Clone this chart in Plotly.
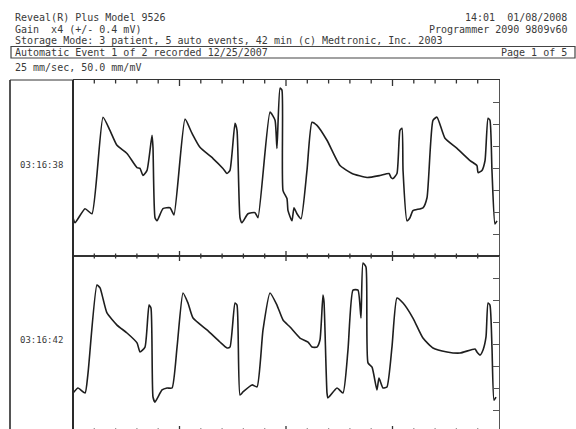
import numpy as np
import plotly.graph_objects as go

# ---- Data: ECG strip traces (time in s, amplitude in mV) ----
t1 = [0.000, 0.019, 0.113, 0.178, 0.282, 0.347, 0.413, 0.507, 0.601, 0.629, 0.657, 0.695,
      0.742, 0.751, 0.770, 0.789, 0.845, 0.911, 0.948, 1.052, 1.117, 1.192, 1.315, 1.408,
      1.446, 1.474, 1.521, 1.540, 1.568, 1.587, 1.643, 1.709, 1.737, 1.850, 1.897, 1.915,
      1.944, 1.962, 1.972, 2.009, 2.019, 2.056, 2.075, 2.103, 2.141, 2.197, 2.244, 2.291,
      2.385, 2.507, 2.620, 2.761, 2.883, 2.967, 2.986, 3.005, 3.042, 3.070, 3.089, 3.099,
      3.136, 3.164, 3.192, 3.286, 3.324, 3.380, 3.418, 3.493, 3.606, 3.728, 3.793, 3.803,
      3.840, 3.869, 3.897, 3.915, 3.934, 3.962, 3.981]
v1 = [-0.226, -0.249, -0.185, -0.208, 0.231, 0.171, 0.103, 0.066, 0.002, -0.002, -0.034, -0.011,
      0.149, 0.094, -0.226, -0.240, -0.185, -0.181, -0.213, 0.222, 0.158, 0.094, 0.043, -0.002,
      -0.025, -0.011, 0.203, 0.171, -0.226, -0.249, -0.208, -0.203, -0.226, 0.254, 0.217, 0.089,
      0.363, 0.354, -0.103, -0.139, -0.194, -0.240, -0.181, -0.208, -0.231, -0.011, 0.208, 0.194,
      0.126, 0.011, -0.025, -0.043, -0.034, -0.025, -0.043, -0.048, -0.025, 0.171, 0.181, -0.011,
      -0.240, -0.226, -0.194, -0.181, -0.135, 0.217, 0.231, 0.135, 0.089, 0.034, 0.011, -0.021,
      -0.011, 0.034, 0.226, 0.217, -0.011, -0.254, -0.240]

t2 = [0.000, 0.047, 0.113, 0.141, 0.225, 0.254, 0.319, 0.413, 0.507, 0.601, 0.629, 0.676,
      0.714, 0.732, 0.751, 0.770, 0.836, 0.883, 0.930, 0.977, 1.033, 1.080, 1.127, 1.258,
      1.380, 1.446, 1.474, 1.521, 1.540, 1.568, 1.596, 1.681, 1.728, 1.784, 1.850, 1.915,
      1.972, 2.038, 2.131, 2.207, 2.244, 2.291, 2.319, 2.347, 2.357, 2.385, 2.394, 2.479,
      2.535, 2.582, 2.629, 2.676, 2.704, 2.723, 2.751, 2.770, 2.808, 2.854, 2.873, 2.911,
      2.948, 2.995, 3.042, 3.099, 3.192, 3.286, 3.380, 3.512, 3.634, 3.775, 3.793, 3.822,
      3.850, 3.878, 3.897, 3.915, 3.934, 3.953, 3.972]
v2 = [-0.223, -0.200, -0.223, -0.132, 0.268, 0.255, 0.141, 0.086, 0.050, 0.005, -0.036, -0.014,
      0.177, 0.164, -0.241, -0.264, -0.209, -0.200, -0.200, -0.014, 0.232, 0.186, 0.118, 0.064,
      0.009, -0.018, -0.014, 0.186, 0.177, -0.232, -0.218, -0.186, -0.195, 0.064, 0.232, 0.177,
      0.109, 0.077, 0.027, 0.009, -0.014, -0.014, 0.018, 0.223, 0.191, -0.223, -0.245, -0.200,
      -0.223, -0.027, 0.245, 0.245, 0.118, 0.368, 0.350, -0.086, -0.105, -0.209, -0.155, -0.200,
      -0.195, -0.014, 0.209, 0.186, 0.118, 0.027, -0.018, -0.036, -0.041, -0.023, -0.036, -0.050,
      -0.027, 0.032, 0.186, 0.177, -0.014, -0.255, -0.241]

strip_labels = ["03:16:38", "03:16:42"]

header_left = ["Reveal(R) Plus Model 9526", "Gain  x4 (+/- 0.4 mV)",
               "Storage Mode: 3 patient, 5 auto events, 42 min (c) Medtronic, Inc. 2003",
               "Automatic Event 1 of 2 recorded 12/25/2007", "25 mm/sec, 50.0 mm/mV"]
header_right = ["14:01  01/08/2008", "Programmer 2090 9809v60", "", "Page 1 of 5", ""]

W, H = 576, 429
def px(x):
    return x / W
def py(y):
    return 1 - y / H

FONT = "DejaVu Sans Mono"
TXT = "#3a3a3a"
LINE = "#333333"

fig = go.Figure()
for tt, vv, xa, ya in [(t1, v1, "x", "y"), (t2, v2, "x2", "y2")]:
    fig.add_trace(go.Scatter(x=tt, y=vv, mode="lines", xaxis=xa, yaxis=ya,
                             line=dict(color="#1e1e1e", width=1.6, shape="spline", smoothing=0.5),
                             showlegend=False, hoverinfo="skip"))

xdom = [px(73), px(499)]
y1dom = [py(256), py(80)]
y2dom = [0, py(256)]
mv_per_px = 0.8 / 176.0

common_x = dict(range=[0, 4], showline=True, linecolor=LINE, linewidth=1, ticks="",
                showticklabels=False, showgrid=False, zeroline=False, fixedrange=True)
common_y = dict(showline=True, linecolor="#555555", linewidth=1.2, side="right", ticks="inside",
                dtick=0.1, tick0=0, ticklen=6, tickcolor="#555555", tickwidth=1,
                showticklabels=False, showgrid=False, zeroline=False, fixedrange=True)

fig.update_layout(
    width=W, height=H, margin=dict(l=0, r=0, t=0, b=0),
    paper_bgcolor="white", plot_bgcolor="white",
    xaxis=dict(domain=xdom, anchor="y", side="top", mirror=True, **common_x),
    yaxis=dict(domain=y1dom, anchor="x", range=[-0.4, 0.4], **common_y),
    xaxis2=dict(domain=xdom, anchor="y2", side="top", mirror=False, **common_x),
    yaxis2=dict(domain=y2dom, anchor="x2", range=[0.4 - 173 * mv_per_px, 0.4], **common_y),
    showlegend=False,
)

shapes = []
shapes.append(dict(type="line", xref="paper", yref="paper", x0=px(10), x1=px(10), y0=py(80), y1=py(432),
                   line=dict(color="#555555", width=2)))
shapes.append(dict(type="line", xref="paper", yref="paper", x0=px(73), x1=px(73), y0=py(80), y1=py(432),
                   line=dict(color="#2a2a2a", width=2)))
shapes.append(dict(type="line", xref="paper", yref="paper", x0=px(10), x1=px(73), y0=py(80), y1=py(80),
                   line=dict(color=LINE, width=1)))
# 0.2 s time marks (1 s marks longer) on the top, middle and bottom strip borders
for tk in np.arange(0.2, 3.99, 0.2):
    major = abs(tk - round(tk)) < 1e-6
    up, dn = (5, 5) if major else (2.5, 2.5)
    for yline, a, b in [(80, 0, dn + 1), (256, up, dn), (432, up + 1, 0)]:
        shapes.append(dict(type="line", xref="x", yref="paper", x0=tk, x1=tk,
                           y0=py(yline - a), y1=py(yline + b),
                           line=dict(color=LINE, width=1.3)))
shapes.append(dict(type="rect", xref="paper", yref="paper", x0=px(11), x1=px(575), y0=py(46.5), y1=py(58),
                   line=dict(color="#444444", width=1.2)))
fig.update_layout(shapes=shapes)

rows_y = [17.5, 29, 40.5, 52, 67]
ann = []
for i, (lt, rt) in enumerate(zip(header_left, header_right)):
    ann.append(dict(text=lt, xref="paper", yref="paper", x=px(13), y=py(rows_y[i]), xanchor="left",
                    yanchor="middle", showarrow=False, font=dict(family=FONT, size=10, color=TXT)))
    if rt:
        ann.append(dict(text=rt, xref="paper", yref="paper", x=px(569), y=py(rows_y[i]), xanchor="right",
                        yanchor="middle", showarrow=False, font=dict(family=FONT, size=10, color=TXT)))
for lab, yy in zip(strip_labels, [165, 340]):
    ann.append(dict(text=lab, xref="paper", yref="paper", x=px(41), y=py(yy), xanchor="center",
                    yanchor="middle", showarrow=False, font=dict(family=FONT, size=9, color=TXT)))
fig.update_layout(annotations=ann)

fig.write_html("out.html")
